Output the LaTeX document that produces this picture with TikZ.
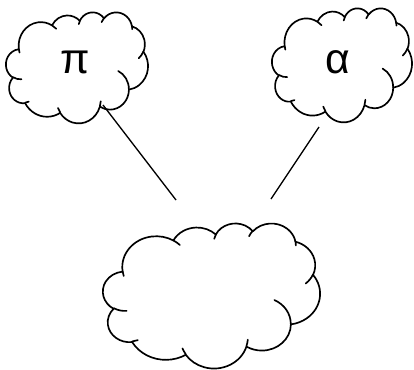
\documentclass[tikz,border=0pt]{standalone}
\usepackage{fontspec}
\setmainfont{Liberation Sans}
\usetikzlibrary{positioning}
% visual (PowerPoint) angle -> parametric angle on an ellipse
\pgfmathdeclarefunction{cloudphi}{3}{%
  \pgfmathparse{(#1) + Mod(atan2((#2)*sin(#1), (#3)*cos(#1)) - (#1) + 540, 360) - 180}%
}
\tikzset{cloudline/.style={draw=black, line width=1.25pt, line join=round, line cap=round},
  cloudlabel/.style={font=\fontsize{32}{36}\selectfont, inner sep=0pt},
  linkline/.style={draw=black, line width=1pt}}
% cloud in a box: left, top, width, height (picture units)
\newcommand{\cloudbox}[4]{%
  \pgfmathsetmacro\cloudw{#3*0.75/43.2}%
  \pgfmathsetmacro\cloudh{#4*0.75/43.2}%
  \begin{scope}[shift={(#1,#2)}, x=\cloudw pt, y=-\cloudh pt]
    % Outline
    \draw[cloudline, fill=white] (3.900,14.370)
      \foreach \rx/\ry/\st/\sw in {
        6.753/9.190/-190.48748/123.78053,
        5.333/7.267/-144.10238/89.94523,
        4.365/5.945/-145.80792/99.72302,
        4.857/6.595/-130.98607/117.24173,
        5.333/7.273/-78.70888/109.02692,
        6.775/9.220/-46.26725/130.269,
        5.785/7.867/0.62502/114.03333,
        6.752/9.215/22.4516/115.17255,
        7.720/10.543/66.24263/75.71102,
        4.360/5.918/-274.94208/146.73557,
        4.345/5.945/-246.8285/152.51885} {
        arc[x radius=\rx, y radius=\ry, start angle={cloudphi(\st,\rx,\ry)}, end angle={cloudphi(\st+\sw,\rx,\ry)}]
      } -- cycle;
    % Inner folds
    \draw[cloudline]
      \foreach \px/\py/\rx/\ry/\st/\sw in {
        4.693/26.177/4.345/5.945/86.742/26.4295,
        6.928/34.899/4.360/5.918/73.61047/11.44747,
        16.478/39.090/6.752/9.215/137.62415/14.0811,
        28.827/34.751/6.752/9.215/6.45327/15.99835,
        34.129/22.954/5.785/7.867/-70.29235/70.91737,
        41.798/15.354/5.333/7.273/30.31803/27.7515,
        38.324/5.426/4.857/6.595/-13.74433/14.8589,
        29.078/3.952/4.857/6.595/-149.18145/18.19537,
        22.141/4.720/4.365/5.945/-163.49427/17.68635,
        14.000/5.192/6.753/9.190/-66.70695/12.31935,
        4.127/15.789/6.753/9.190/157.65435/11.85817} {
        (\px,\py) arc[x radius=\rx, y radius=\ry, start angle={cloudphi(\st,\rx,\ry)}, end angle={cloudphi(\st+\sw,\rx,\ry)}]
      };
  \end{scope}}
\begin{document}
\begin{tikzpicture}[x=0.75pt, y=-0.75pt]
    \useasboundingbox (0,0) rectangle (414,369);
    % Clouds
    \cloudbox{6}{12}{142}{111}
    \cloudbox{272}{8}{140}{114}
    \cloudbox{103}{223}{217}{145}
    % Labels
    \node[cloudlabel] (pi) at (75,62) {π};
    \node[cloudlabel] (alpha) at (338,62) {α};
    % Links
    \coordinate (pi-tail) at (103,105);
    \coordinate (pi-head) at (176,200);
    \coordinate (alpha-tail) at (319,127);
    \coordinate (alpha-head) at (271,199);
    \draw[linkline] (pi-tail) -- (pi-head);
    \draw[linkline] (alpha-tail) -- (alpha-head);
\end{tikzpicture}
\end{document}
